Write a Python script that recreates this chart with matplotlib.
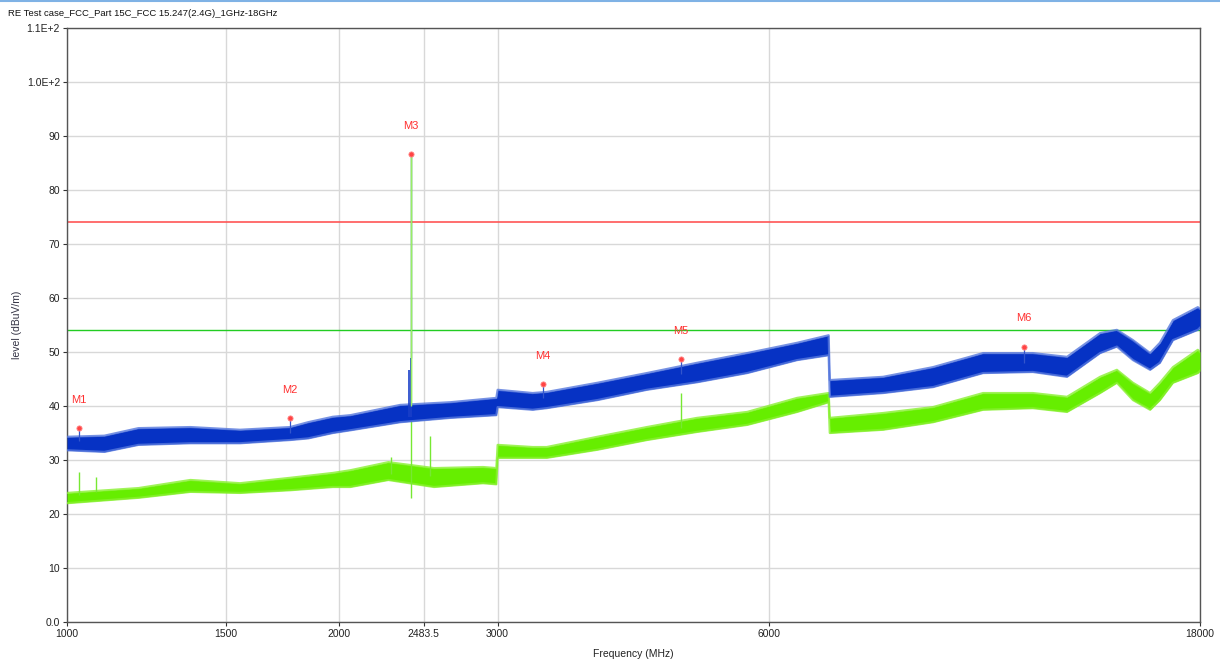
import matplotlib
matplotlib.use("Agg")
import matplotlib.pyplot as plt
from matplotlib.lines import Line2D

# ---------------- data ----------------
title = "RE Test case_FCC_Part 15C_FCC 15.247(2.4G)_1GHz-18GHz"
x_ticks = [1000, 1500, 2000, 2483.5, 3000, 6000, 18000]
x_tick_labels = ["1000", "1500", "2000", "2483.5", "3000", "6000", "18000"]
y_ticks = [0, 10, 20, 30, 40, 50, 60, 70, 80, 90, 100, 110]
y_tick_labels = ["0.0", "10", "20", "30", "40", "50", "60", "70", "80", "90", "1.0E+2", "1.1E+2"]

limit_peak = 74.0
limit_avg = 54.0

# Peak trace (blue): envelope low / high
blue_freq = [1000, 1100, 1200, 1370, 1555, 1767, 1850, 1970, 2060, 2340, 2660, 2990,
             3000, 3280, 3400, 3870, 4390, 4990, 5670, 6440, 6980,
             7000, 8020, 9110, 10350, 11750, 12820, 13950, 14560, 15170, 15850,
             16250, 16800, 17900, 18000]
blue_lo = [31.8, 31.5, 32.8, 33.1, 33.1, 33.7, 34.0, 35.0, 35.5, 37.0, 37.8, 38.3,
           39.8, 39.3, 39.6, 41.1, 43.0, 44.4, 46.1, 48.5, 49.4,
           41.7, 42.4, 43.5, 46.1, 46.3, 45.4, 49.8, 51.0, 48.5, 46.7,
           48.0, 52.2, 54.1, 54.5]
blue_hi = [34.3, 34.5, 35.9, 36.1, 35.6, 36.1, 37.0, 38.0, 38.3, 40.2, 40.7, 41.5,
           43.0, 42.4, 42.6, 44.3, 46.1, 48.0, 49.8, 51.7, 53.1,
           44.8, 45.4, 47.2, 49.8, 49.8, 49.1, 53.5, 54.1, 52.2, 49.8,
           51.7, 55.9, 58.3, 58.0]

# Average trace (green): envelope low / high
green_freq = [1000, 1200, 1370, 1555, 1767, 1970, 2060, 2270, 2550, 2890, 2990,
              3000, 3280, 3400, 3870, 4390, 4990, 5670, 6440, 6980,
              7000, 8020, 9110, 10350, 11750, 12820, 13950, 14560, 15170, 15850,
              16250, 16800, 17900, 18000]
green_lo = [22.0, 23.0, 24.1, 23.9, 24.4, 25.0, 25.0, 26.3, 25.0, 25.7, 25.5,
            30.4, 30.4, 30.4, 31.9, 33.7, 35.2, 36.5, 38.9, 40.7,
            35.0, 35.6, 37.0, 39.3, 39.6, 38.9, 42.4, 44.3, 41.1, 39.3,
            41.1, 44.3, 46.1, 46.5]
green_hi = [23.9, 24.8, 26.3, 25.7, 26.7, 27.6, 28.1, 29.6, 28.5, 28.7, 28.5,
            32.8, 32.4, 32.4, 34.3, 36.1, 37.8, 38.9, 41.5, 42.4,
            37.8, 38.7, 39.8, 42.4, 42.4, 41.7, 45.4, 46.7, 44.3, 42.4,
            44.3, 47.2, 50.4, 50.0]

# Narrow spikes
green_spike_freq = [1031, 1077, 2286, 2402, 2525, 4790]
green_spike_base = [23.5, 24.0, 27.5, 23.0, 27.0, 36.0]
green_spike_peak = [27.8, 26.9, 30.5, 86.7, 34.4, 42.4]
blue_spike_freq = [2395, 2402]
blue_spike_base = [38.0, 38.0]
blue_spike_peak = [46.7, 48.9]

# Markers
marker_names = ["M1", "M2", "M3", "M4", "M5", "M6"]
marker_freq = [1031, 1767, 2402, 3368, 4790, 11490]
marker_level = [35.9, 37.8, 86.7, 44.0, 48.7, 51.0]
marker_base = [33.5, 35.0, 48.9, 41.5, 46.0, 48.0]

# ---------------- figure ----------------
W, H = 1220, 664
fig = plt.figure(figsize=(W / 100, H / 100), dpi=100)
fig.patch.set_facecolor("white")
ax = fig.add_axes([67 / W, (H - 622) / H, (1200 - 67) / W, (622 - 28) / H])

font = ["Liberation Sans", "DejaVu Sans"]

ax.set_xscale("log")
ax.set_xlim(1000, 18000)
ax.set_ylim(0, 110)

ax.set_xticks(x_ticks)
ax.set_xticklabels(x_tick_labels, family=font, fontsize=7.5, color="#222222")
ax.xaxis.set_minor_locator(matplotlib.ticker.NullLocator())
ax.set_yticks(y_ticks)
ax.set_yticklabels(y_tick_labels, family=font, fontsize=7.5, color="#222222")
ax.tick_params(axis="both", direction="out", length=3, width=0.8, color="#333333", pad=2)

ax.grid(True, color="#d8d8d8", linewidth=1.0)
ax.set_axisbelow(True)
for s in ax.spines.values():
    s.set_color("#555555")
    s.set_linewidth(1.0)

fig.text(633 / W, 1 - 654 / H, "Frequency (MHz)", family=font, fontsize=7.5,
         color="#222222", ha="center", va="center")
fig.text(17 / W, 1 - 325 / H, "level (dBuV/m)", family=font, fontsize=7.5,
         color="#333344", ha="center", va="center", rotation=90)

# limit lines
ax.axhline(limit_peak, color="#ff5555", linewidth=1.2, zorder=2)
ax.axhline(limit_avg, color="#22cc22", linewidth=1.0, zorder=2)

# green trace
ax.fill_between(green_freq, green_lo, green_hi, color="#66ee00", linewidth=0, zorder=3)
ax.plot(green_freq, green_hi, color="#88f030", linewidth=1.6, alpha=0.8, zorder=3)
ax.plot(green_freq, green_lo, color="#88f030", linewidth=1.6, alpha=0.8, zorder=3)
ax.vlines(green_spike_freq, green_spike_base, green_spike_peak, colors="#77e833",
          linewidth=1.0, zorder=3)

# blue trace
ax.fill_between(blue_freq, blue_lo, blue_hi, color="#0632c4", linewidth=0, zorder=4)
ax.plot(blue_freq, blue_hi, color="#5577dd", linewidth=1.6, alpha=0.8, zorder=4)
ax.plot(blue_freq, blue_lo, color="#5577dd", linewidth=1.6, alpha=0.8, zorder=4)
ax.vlines(blue_spike_freq, blue_spike_base, blue_spike_peak, colors="#1a3fc8",
          linewidth=1.2, zorder=4)
ax.vlines(marker_freq, marker_base, marker_level, colors="#3355cc", linewidth=0.9, zorder=4)

# M3 bright line on top
ax.vlines([green_spike_freq[3]], [40], [green_spike_peak[3]], colors="#99ee66",
          linewidth=1.0, zorder=5)

# markers
ax.scatter(marker_freq, marker_level, s=14, color="#ff4444", edgecolors="#ff8888",
           linewidths=0.6, zorder=6)
for name, f, lv in zip(marker_names, marker_freq, marker_level):
    ax.text(f, lv + 4.3, name, color="#ff3030", fontsize=8, family=font,
            ha="center", va="bottom", zorder=6)

# title
fig.text(8 / W, 1 - 13 / H, title, family=font, fontsize=6.8, color="#111111",
         ha="left", va="center")
fig.add_artist(Line2D([0, 1], [1 - 0.6 / H, 1 - 0.6 / H], color="#7fb2e5",
                      linewidth=1.5, transform=fig.transFigure))

fig.savefig("out.png", dpi=100)
